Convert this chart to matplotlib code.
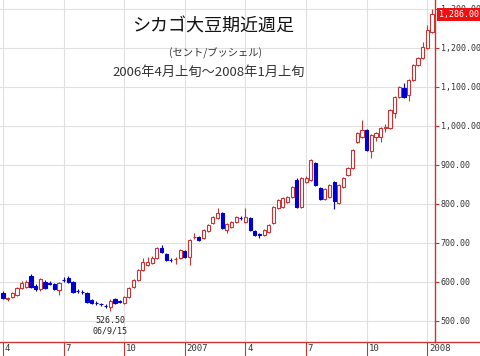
import numpy as np
import matplotlib
matplotlib.use('Agg')
import matplotlib.pyplot as plt
from matplotlib.lines import Line2D

plt.rcParams['font.family'] = ['Noto Sans CJK JP', 'DejaVu Sans']

# weekly candles, first week of Apr 2006 .. first week of Jan 2008 (cents/bushel)
opens = [572, 555, 562, 567, 585, 587, 615, 590, 582, 600,
         598, 595, 580, 606, 610, 600, 578, 575, 572, 554,
         547, 544, 539, 536, 556, 550, 546, 562, 587, 605,
         630, 644, 649, 662, 687, 672, 657, 658, 662, 679,
         664, 714, 715, 713, 730, 751, 764, 777, 733, 741,
         754, 765, 754, 764, 731, 722, 721, 728, 751, 790,
         792, 805, 818, 862, 792, 856, 862, 905, 841, 813,
         818, 856, 803, 844, 874, 892, 959, 972, 990, 935,
         972, 972, 996, 995, 1033, 1074, 1097, 1079, 1118, 1156,
         1174, 1200, 1241]
closes = [559, 558, 572, 585, 597, 600, 587, 582, 607, 585,
          596, 582, 597, 604, 600, 574, 577, 574, 549, 546,
          546, 543, 538, 552, 546, 549, 562, 585, 605, 630,
          650, 651, 662, 687, 677, 656, 656, 659, 682, 664,
          708, 715, 708, 733, 746, 766, 777, 738, 749, 754,
          767, 764, 767, 733, 721, 721, 733, 746, 792, 810,
          815, 818, 844, 792, 867, 867, 913, 849, 813, 838,
          849, 808, 849, 867, 892, 938, 982, 990, 938, 977,
          982, 995, 997, 1041, 1074, 1100, 1074, 1118, 1156, 1174,
          1203, 1246, 1286]
highs = [576, 561, 574, 588, 602, 605, 620, 594, 610, 604,
         603, 598, 600, 612, 614, 603, 583, 580, 575, 557,
         551, 547, 543, 556, 560, 553, 565, 588, 608, 633,
         662, 664, 666, 690, 694, 675, 661, 663, 685, 683,
         711, 725, 718, 736, 749, 770, 790, 780, 752, 757,
         770, 769, 790, 767, 734, 726, 736, 749, 795, 813,
         818, 821, 847, 866, 870, 872, 916, 908, 844, 841,
         852, 859, 852, 870, 895, 941, 985, 1015, 993, 980,
         985, 998, 1005, 1044, 1077, 1103, 1110, 1121, 1159, 1177,
         1215, 1260, 1300]
lows = [555, 552, 559, 565, 582, 584, 584, 578, 578, 582,
        592, 579, 567, 600, 597, 571, 572, 569, 546, 543,
        542, 539, 534, 526.5, 543, 545, 543, 559, 584, 602,
        627, 641, 646, 659, 674, 653, 652, 645, 659, 661,
        644, 710, 705, 710, 727, 748, 761, 735, 725, 738,
        751, 760, 751, 730, 718, 712, 718, 725, 748, 787,
        789, 802, 815, 789, 789, 853, 859, 846, 810, 810,
        815, 787, 800, 841, 871, 889, 956, 969, 935, 918,
        962, 960, 985, 992, 1020, 1071, 1071, 1065, 1115, 1153,
        1171, 1197, 1238]

month_ticks = [0, 13, 26, 39, 52, 65, 78, 91]
month_labels = ['4', '7', '10', '2007', '4', '7', '10', '2008']
price_ticks = [500, 600, 700, 800, 900, 1000, 1100, 1200, 1300]
low_date = '06/9/15'

red = '#cc3333'
blue = '#0000cc'
mono = 'DejaVu Sans Mono'

fig = plt.figure(figsize=(4.8, 3.56), dpi=100)
ax = fig.add_axes([0, 14 / 356, 435 / 480, 342 / 356])

x = np.arange(len(opens))
o = np.array(opens, float)
c = np.array(closes, float)
h = np.array(highs, float)
l = np.array(lows, float)
up = c >= o

# wicks then bodies
ax.vlines(x[up], l[up], h[up], color=red, lw=0.8, zorder=2)
ax.vlines(x[~up], l[~up], h[~up], color=blue, lw=0.8, zorder=2)
ax.bar(x[up], (c - o)[up], bottom=o[up], width=0.68, facecolor='white',
       edgecolor=red, lw=0.8, zorder=3)
ax.bar(x[~up], (c - o)[~up], bottom=o[~up], width=0.68, facecolor=blue,
       edgecolor=blue, lw=0.8, zorder=3)

ax.set_xlim(-0.643, 92.64)
ax.set_ylim(446, 1323)

ax.grid(True, color='#e0e0e0', lw=0.8)
ax.set_axisbelow(True)

ax.yaxis.tick_right()
ax.set_yticks(price_ticks)
ax.set_yticklabels(['{:,.2f}'.format(p) for p in price_ticks],
                   fontsize=6, family=mono, color='#333333')
ax.tick_params(axis='y', colors=red, labelcolor='#333333', length=3,
               width=0.8, pad=1)

ax.set_xticks(month_ticks)
ax.set_xticklabels([])
ax.tick_params(axis='x', colors=red, length=10, width=0.8)
for p, lab in zip(month_ticks, month_labels):
    ax.annotate(lab, xy=(p, 0), xycoords=('data', 'axes fraction'),
                xytext=(1.2, -1.5), textcoords='offset points',
                ha='left', va='top', fontsize=6.5, family=mono,
                color='#333333', annotation_clip=False)

for s in ['top', 'left']:
    ax.spines[s].set_visible(False)
ax.spines['right'].set_color(red)
ax.spines['bottom'].set_color(red)
ax.spines['right'].set_linewidth(1)
ax.spines['bottom'].set_linewidth(1)
fig.add_artist(Line2D([435 / 480, 1], [14 / 356, 14 / 356], color=red,
                      lw=1, transform=fig.transFigure))

# lowest point annotation
i_low = int(np.argmin(l))
ax.annotate('{:.2f}'.format(l[i_low]), xy=(i_low, l[i_low]),
            xytext=(0, -7), textcoords='offset points', ha='center',
            va='center', fontsize=6, family=mono, color='#222222')
ax.annotate(low_date, xy=(i_low, l[i_low]), xytext=(0, -14.5),
            textcoords='offset points', ha='center', va='center',
            fontsize=6, family=mono, color='#222222')

# last price box
ax.annotate('{:,.2f}'.format(c[-1]), xy=(1, c[-1]),
            xycoords=('axes fraction', 'data'), xytext=(3.2, 0),
            textcoords='offset points', ha='left', va='center',
            fontsize=6, family=mono, color='white', annotation_clip=False,
            bbox=dict(boxstyle='square,pad=0.25', fc='#ee1111', ec='none'))

fig.text(213 / 480, 1 - 27 / 356, 'シカゴ大豆期近週足', ha='center',
         va='center', fontsize=13, color='#111111')
fig.text(215 / 480, 1 - 53 / 356, '(セント/ブッシェル)', ha='center',
         va='center', fontsize=7.4, color='#333333')
fig.text(209 / 480, 1 - 72 / 356, '2006年4月上旬～2008年1月上旬',
         ha='center', va='center', fontsize=9.5, color='#333333')

fig.savefig('out.png', dpi=100)
